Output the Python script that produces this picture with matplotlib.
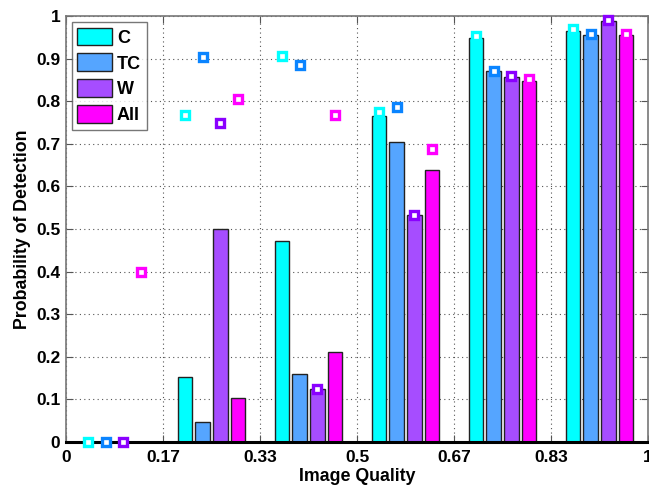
import numpy as np
import matplotlib.pyplot as plt
from matplotlib.patches import Patch

plt.rcParams['font.family'] = ['Liberation Sans', 'DejaVu Sans']
plt.rcParams['font.weight'] = 'bold'

# group centres on the image-quality axis
centers = [1/12, 3/12, 5/12, 7/12, 9/12, 11/12]
names = ['C', 'TC', 'W', 'All']

# bar heights
bar_C = [0, 0.152, 0.472, 0.766, 0.948, 0.964]
bar_TC = [0, 0.046, 0.159, 0.704, 0.871, 0.956]
bar_W = [0, 0.500, 0.124, 0.533, 0.858, 0.988]
bar_All = [0, 0.103, 0.211, 0.639, 0.848, 0.956]

# open square markers
pt_C = [0, 0.769, 0.906, 0.775, 0.953, 0.969]
pt_TC = [0, 0.905, 0.885, 0.787, 0.871, 0.958]
pt_W = [0, 0.750, 0.124, 0.533, 0.859, 0.991]
pt_All = [0.400, 0.806, 0.769, 0.687, 0.852, 0.959]

xticks = [0, 1/6, 2/6, 3/6, 4/6, 5/6, 1]
xlabels = ['0', '0.17', '0.33', '0.5', '0.67', '0.83', '1']

bar_cols = ['#00ffff', '#55a5ff', '#a64dff', '#ff00ff']
pt_cols = ['#00ffff', '#0a84ff', '#8a00ff', '#ff00ff']
offsets = [-0.0455, -0.0152, 0.0152, 0.0455]
w = 0.025

fig = plt.figure(figsize=(6.49, 4.90), dpi=100)
ax = fig.add_axes([0.1017, 0.098, 0.8968, 0.869])

bars = [bar_C, bar_TC, bar_W, bar_All]
pts = [pt_C, pt_TC, pt_W, pt_All]
c = np.array(centers)
for i in range(4):
    ax.bar(c + offsets[i], bars[i], width=w, color=bar_cols[i],
           edgecolor='#222222', linewidth=1.0, zorder=3)
for i in range(4):
    ax.plot(c + offsets[i], pts[i], 's', mfc='white', mec=pt_cols[i],
            ms=6, mew=2.4, zorder=5, clip_on=False)

ax.set_xlim(0, 1)
ax.set_ylim(0, 1)
ax.set_xticks(xticks)
ax.set_xticklabels(xlabels)
ax.set_yticks(np.arange(0, 1.01, 0.1))
ax.set_yticklabels(['0', '0.1', '0.2', '0.3', '0.4', '0.5', '0.6', '0.7', '0.8', '0.9', '1'])
ax.tick_params(labelsize=12.5, direction='in', length=5, right=True, top=True,
               color='#555555')
ax.tick_params(axis='x', pad=6)
ax.tick_params(axis='y', pad=4)
ax.grid(True, linestyle=(0, (1, 3)), color='#555555', linewidth=0.8, zorder=0)
ax.set_axisbelow(True)
for s in ['left', 'right', 'top']:
    ax.spines[s].set_color('#777777')
    ax.spines[s].set_linewidth(1.2)
ax.spines['bottom'].set_color('black')
ax.spines['bottom'].set_linewidth(2.2)
ax.spines['bottom'].set_zorder(4)

ax.set_xlabel('Image Quality', fontsize=12.8, fontweight='bold', labelpad=2)
ax.set_ylabel('Probability of Detection', fontsize=12.8, fontweight='bold', labelpad=4)

handles = [Patch(facecolor=bar_cols[i], edgecolor='#222222', linewidth=1.0) for i in range(4)]
leg = ax.legend(handles, names, loc='upper left', fontsize=13, frameon=True,
                fancybox=False, edgecolor='#555555', handlelength=1.9, handleheight=1.15,
                handletextpad=0.3, labelspacing=0.38, borderpad=0.3, borderaxespad=0,
                bbox_to_anchor=(0.01, 0.986))
leg.get_frame().set_linewidth(1.0)
leg.set_zorder(6)

fig.savefig('out.png', dpi=100)
